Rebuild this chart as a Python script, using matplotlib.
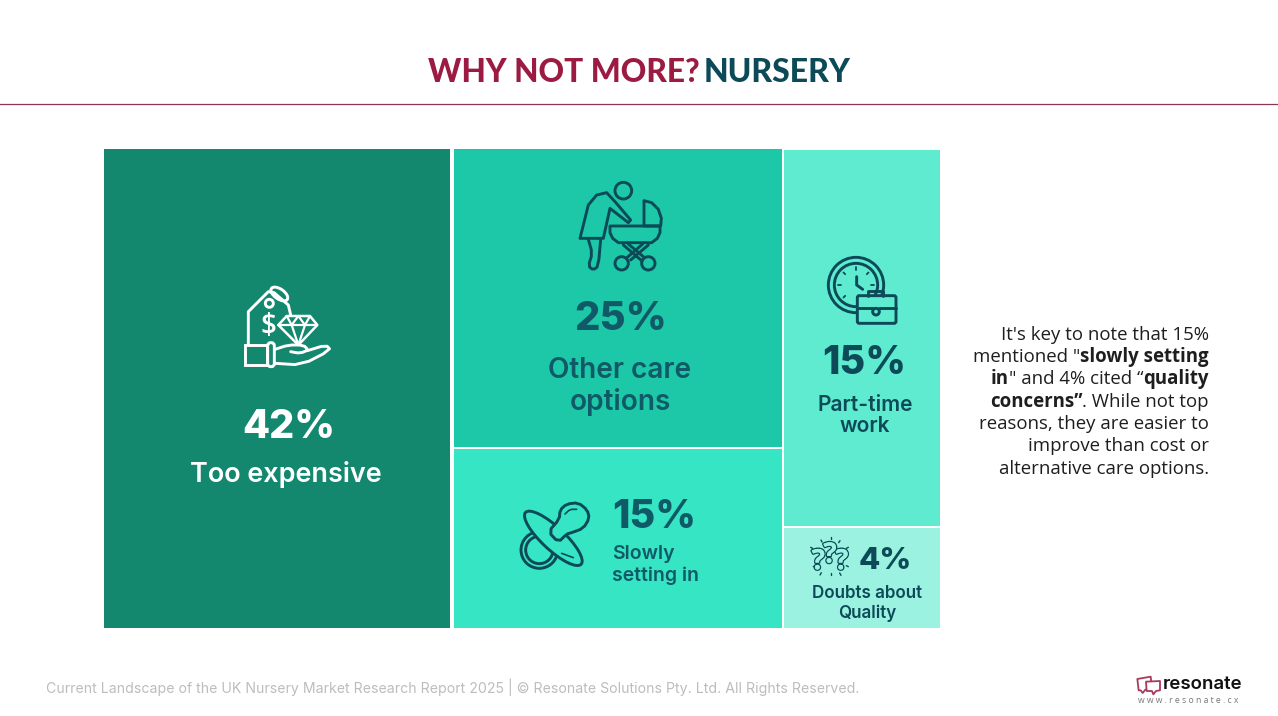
import numpy as np
import matplotlib
matplotlib.use("Agg")
import matplotlib.pyplot as plt
from matplotlib.patches import Rectangle, Circle, Ellipse, Polygon, FancyBboxPatch
import matplotlib.patheffects as pe

categories = ["Too expensive", "Other care options", "Slowly setting in", "Part-time work", "Doubts about Quality"]
values = [42, 25, 15, 15, 4]
columns = [[0], [1, 2], [3, 4]]
fills = ["#14876F", "#1DC8A8", "#36E5C3", "#5EEBD0", "#9CF2E0"]

W, H = 1278, 716
DARK = "#0C4A58"
TEAL = "#0F5A66"
RED = "#9B1B42"
HEAD = "Inter"
BODY = "Open Sans"

fig = plt.figure(figsize=(W / 100, H / 100), dpi=100, facecolor="white")
ax = fig.add_axes([0, 0, 1, 1])
ax.set_xlim(0, W)
ax.set_ylim(H, 0)
ax.axis("off")


def fs(px):
    return px * 0.72


def T(x, y, s, px, color=DARK, weight="bold", ha="center", family=HEAD, dy=2, **kw):
    return ax.text(x, y + dy, s, fontsize=fs(px), color=color, fontweight=weight, ha=ha, va="center",
                   family=family, **kw)


# ---- treemap from the values
X0, X1, Y0, Y1 = 104, 940, 149, 628
col_inset_left = [0, 2.4, 1.3]
col_inset_right = [1.6, 0.7, 0]
col_inset_top = [0, 0, 1]
total = sum(values)
col_sums = [sum(values[i] for i in c) for c in columns]
x = X0
for k, (c, cs) in enumerate(zip(columns, col_sums)):
    w = (X1 - X0) * cs / total
    y = Y0
    for j, i in enumerate(c):
        h = (Y1 - Y0) * values[i] / cs
        top = y + (1.0 if j > 0 else col_inset_top[k])
        bot = y + h - (1.0 if j < len(c) - 1 else 0)
        ax.add_patch(Rectangle((x + col_inset_left[k], top), w - col_inset_left[k] - col_inset_right[k], bot - top,
                               facecolor=fills[i], edgecolor="none"))
        y += h
    x += w

# ---- header and rule
T(428, 70, "WHY NOT MORE?", 31.6, color=RED, ha="left", family="Lato", weight="black", dy=2)
T(704, 70, "NURSERY", 32, color=DARK, ha="left", family="Lato", weight="black", dy=2)
ax.plot([0, W], [103.5, 103.5], color="#8E3553", lw=0.9)

# ---- labels
NUM = "heavy"
T(289, 425, f"{values[0]}%", 39.5, color="white", weight=NUM, dy=3)
T(286, 473, "Too expensive", 27, color="white", weight="semibold")
T(620.5, 316, f"{values[1]}%", 40, color=TEAL, weight=NUM, dy=3)
T(620, 368, "Other care", 28, color=TEAL, weight="semibold")
T(620, 400, "options", 28, color=TEAL, weight="semibold")
T(612, 515, f"{values[2]}%", 39.5, color=TEAL, ha="left", weight=NUM, dy=3)
T(612, 553, "Slowly", 19.5, color=TEAL, ha="left", weight="semibold", dy=1)
T(612, 575, "setting in", 19.5, color=TEAL, ha="left", weight="semibold", dy=1)
T(864, 361, f"{values[3]}%", 39.5, color=DARK, weight=NUM, dy=3)
T(865, 404, "Part-time", 21, color=DARK, weight="semibold", dy=1)
T(865, 425, "work", 21, color=DARK, weight="semibold", dy=1)
T(859, 559, f"{values[4]}%", 31, color=DARK, ha="left", weight=NUM, dy=2)
T(867, 593, "Doubts about", 17, color=DARK, weight="semibold", dy=1)
T(867, 612, "Quality", 17, color=DARK, weight="semibold", dy=1)

# ---- paragraph with bold runs, right aligned
para = [
    [("It's key to note that 15%", False)],
    [('mentioned "', False), ("slowly setting", True)],
    [("in", True), ('" and 4% cited “', False), ("quality", True)],
    [("concerns”", True), (". While not top", False)],
    [("reasons, they are easier to", False)],
    [("improve than cost or", False)],
    [("alternative care options.", False)],
]
fig.canvas.draw()
rend = fig.canvas.get_renderer()
PX = 18.65
for n, runs in enumerate(para):
    yy = 333.5 + n * 22.35
    xx = 1209.0
    for s, b in reversed(runs):
        t = T(xx, yy, s, PX, color="#1E1E1E", weight="bold" if b else "normal", ha="right", family=BODY, dy=1)
        probe = T(0, 0, "|" + s + "|", PX, weight="bold" if b else "normal", family=BODY)
        bar = T(0, 0, "||", PX, weight="bold" if b else "normal", family=BODY)
        wd = probe.get_window_extent(rend).width - bar.get_window_extent(rend).width
        probe.remove()
        bar.remove()
        xx -= wd

# ---- footer
T(46, 688, "Current Landscape of the UK Nursery Market Research Report 2025 | © Resonate Solutions Pty. Ltd. All Rights Reserved.",
  14.14, color="#BDBDBD", weight="normal", ha="left", family="Inter", dy=-0.5)


# ---- icon helpers: coordinates are given in a 3x local frame
def mk(ox, oy):
    return lambda p: (ox + p[0] / 3.0, oy + p[1] / 3.0)


def chaikin(pts, n=2, closed=False):
    pts = np.asarray(pts, float)
    for _ in range(n):
        a = pts
        b = np.roll(pts, -1, axis=0) if closed else pts[1:]
        a2 = a if closed else a[:-1]
        q = 0.75 * a2 + 0.25 * b
        r = 0.25 * a2 + 0.75 * b
        new = np.empty((2 * len(a2), 2))
        new[0::2] = q
        new[1::2] = r
        if not closed:
            new = np.vstack([pts[0], new, pts[-1]])
        pts = new
    return pts


LW = 2.1


def line(f, pts, color, lw=LW, smooth=0, fill=None, closed=False, z=3):
    p = np.array([f(q) for q in pts])
    if smooth:
        p = chaikin(p, smooth, closed)
    if fill is not None or closed:
        ax.add_patch(Polygon(p, closed=True, facecolor=fill if fill else "none", edgecolor=color, lw=lw, zorder=z,
                             joinstyle="round"))
    else:
        ax.plot(p[:, 0], p[:, 1], color=color, lw=lw, solid_capstyle="round", solid_joinstyle="round", zorder=z)


def circ(f, c, r, color, lw=LW, fill="none", z=3):
    ax.add_patch(Circle(f(c), r / 3.0, facecolor=fill, edgecolor=color, lw=lw, zorder=z))


# icon 1: tag, diamond, hand
f = mk(220, 270)
C = "white"
B = fills[0]
line(f, [(85, 222), (85, 125), (145, 65), (162, 68), (205, 105), (212, 135)], C)
ax.add_patch(Ellipse(f((178, 72)), 58 / 3, 30 / 3, angle=35, facecolor="none", edgecolor=C, lw=LW, zorder=3))
circ(f, (148, 100), 12, C, fill=B, z=4)
T(*f((145, 170)), "$", 28, color=C, weight="semibold", family=BODY, zorder=4, dy=0)
line(f, [(175, 165), (200, 138), (270, 138), (292, 165), (235, 225)], C, closed=True, fill=B, z=4, lw=1.8)
line(f, [(175, 165), (292, 165)], C, z=5, lw=1.6)
line(f, [(200, 138), (215, 165), (235, 138), (255, 165), (270, 138)], C, z=5, lw=1.6)
line(f, [(215, 165), (235, 225), (255, 165)], C, z=5, lw=1.6)
line(f, [(165, 238), (205, 225), (250, 225), (265, 240), (240, 250), (212, 245)], C, smooth=1, z=5)
line(f, [(262, 242), (318, 225), (332, 240), (245, 285), (165, 280)], C, smooth=1, z=5)
ax.add_patch(Rectangle(f((75, 225)), 65 / 3, 60 / 3, facecolor="none", edgecolor=C, lw=LW, zorder=5))
ax.add_patch(FancyBboxPatch(f((143, 218)), 20 / 3, 72 / 3, boxstyle="round,pad=0,rounding_size=3", facecolor=B,
                            edgecolor=C, lw=LW, zorder=6))

# icon 2: carer and pram
f = mk(560, 170)
C = DARK
B = fills[1]
circ(f, (190, 62), 25, C)
line(f, [(60, 205), (85, 105), (110, 75), (140, 68), (165, 95), (212, 150), (205, 158), (150, 115), (130, 205)], C,
     closed=True)
line(f, [(85, 208), (97, 250), (85, 288), (100, 300), (115, 288), (122, 208)], C, smooth=1)
line(f, [(252, 92), (275, 98), (295, 118), (304, 145), (302, 168), (252, 168)], C, closed=True)
line(f, [(150, 168), (300, 168), (300, 188), (292, 205), (275, 218), (175, 218), (158, 205), (150, 188)], C, closed=True)
line(f, [(205, 222), (262, 270)], C)
line(f, [(190, 225), (245, 272)], C)
line(f, [(248, 222), (195, 268)], C)
line(f, [(265, 225), (212, 270)], C)
circ(f, (185, 280), 20, C, fill=B, z=4)
circ(f, (265, 280), 20, C, fill=B, z=4)

# icon 3: pacifier
f = mk(500, 490)
C = DARK
B = fills[2]
circ(f, (118, 180), 55, C)
circ(f, (118, 180), 41, C)
ax.add_patch(Ellipse(f((160, 145)), 228 / 3, 68 / 3, angle=43, facecolor=B, edgecolor=C, lw=LW, zorder=4))
line(f, [(145, 125), (178, 88), (180, 60), (200, 42), (235, 38), (262, 60), (268, 85), (250, 115), (215, 128),
         (200, 132), (175, 157)], C, smooth=1, closed=True, fill=B, z=5)
line(f, [(195, 72), (210, 58), (230, 58)], C, lw=1.2, z=6, smooth=1)
line(f, [(185, 190), (220, 203)], C, lw=1.2, z=6)

# icon 4: clock and briefcase
f = mk(780, 240)
C = DARK
B = fills[3]
circ(f, (228, 135), 83, C)
circ(f, (228, 135), 65, C)
for a in (0, 45, 90, 225, 270, 315):
    r = np.radians(a)
    d = np.array([np.sin(r), -np.cos(r)])
    c0 = np.array([228, 135])
    line(f, [c0 + 46 * d, c0 + 53 * d], C, lw=1.3)
line(f, [(230, 110), (230, 135), (248, 148)], C)
ax.add_patch(FancyBboxPatch(f((232, 167)), 116 / 3, 83 / 3, boxstyle="round,pad=0,rounding_size=2", facecolor=B,
                            edgecolor=C, lw=LW, zorder=4))
line(f, [(265, 167), (265, 152), (308, 152), (308, 167)], C, z=5)
line(f, [(233, 205), (278, 205)], C, z=5)
line(f, [(298, 205), (347, 205)], C, z=5)
circ(f, (288, 215), 10, C, fill=B, z=5)

# icon 5: question marks
f = mk(780, 520)
C = DARK
B = fills[4]
for (qx, qy) in [(115, 125), (185, 125), (150, 105)]:
    T(*f((qx, qy)), "?", 28, color=B, family=BODY, zorder=5, dy=0,
      path_effects=[pe.withStroke(linewidth=2.0, foreground=C), pe.Normal()])
for p0, p1 in [((123, 60), (126, 66)), ((152, 50), (152, 57)), ((180, 62), (176, 68)), ((205, 82), (199, 85)),
               ((92, 82), (98, 85)), ((120, 165), (124, 158)), ((152, 165), (152, 158)), ((183, 166), (179, 159)),
               ((100, 140), (106, 137)), ((205, 140), (199, 137))]:
    line(f, [p0, p1], C, lw=1.0)

# ---- logo
f = mk(1120, 665)
C = "#A83A5C"
line(f, [(52, 42), (92, 35), (96, 70), (76, 74), (68, 84), (62, 76), (56, 76)], C, lw=1.3, closed=True)
line(f, [(78, 50), (120, 48), (120, 76), (108, 78), (100, 88), (96, 78), (80, 78)], C, lw=1.3, fill="white", z=4)
T(1163, 684.5, "resonate", 18.7, color="#111111", weight="semibold", ha="left", family=HEAD, dy=0)
T(1188.5, 700.5, "w w w . r e s o n a t e . c x", 8.7, color="#777777", weight="normal", family=BODY, dy=0)

fig.savefig("out.png", dpi=100, facecolor="white")
